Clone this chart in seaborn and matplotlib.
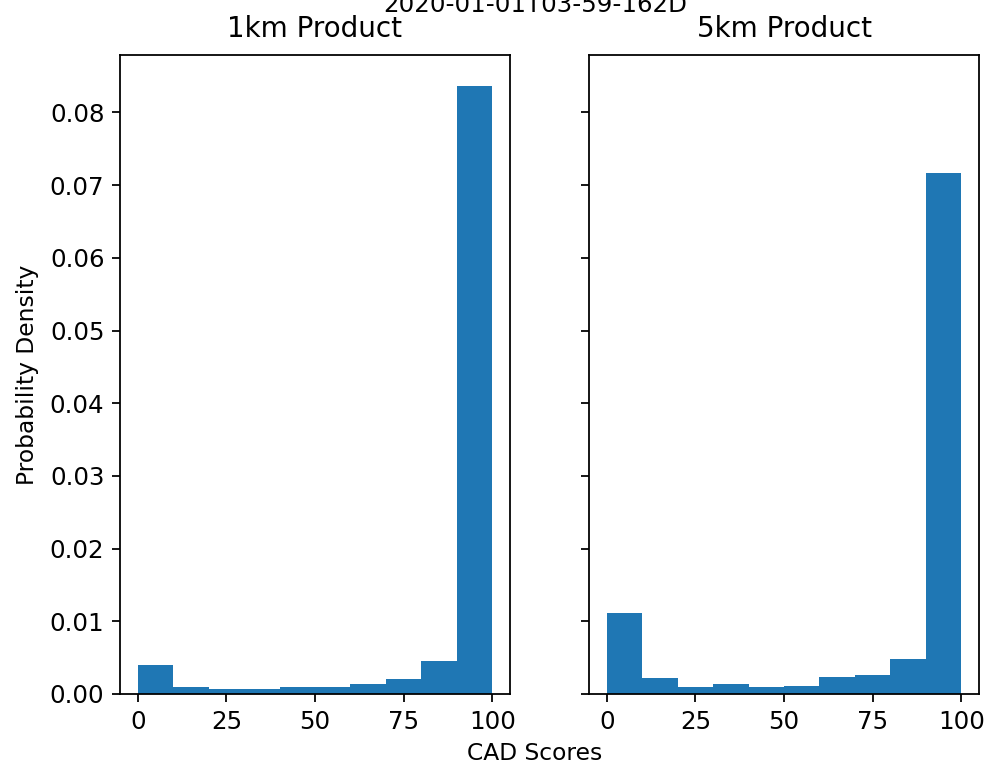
import numpy as np
import seaborn as sns
import matplotlib.pyplot as plt

# Bin edges (10 equal bins over 0-100) and density per bin
bin_edges = [0, 10, 20, 30, 40, 50, 60, 70, 80, 90, 100]
density_1km = [0.0040, 0.00092, 0.00069, 0.00069, 0.00092, 0.00092, 0.00137, 0.0021, 0.0045, 0.0837]
density_5km = [0.0111, 0.00215, 0.00092, 0.0014, 0.00092, 0.00114, 0.0024, 0.0026, 0.0048, 0.0717]
titles = ["1km Product", "5km Product"]
granule = "2020-01-01T03-59-162D"

centers = (np.array(bin_edges[:-1]) + np.array(bin_edges[1:])) / 2

fig = plt.figure(figsize=(986 / 160, 766 / 160), dpi=160)
ax1 = fig.add_axes([0.1217, 0.094, 0.3955, 0.834])
ax2 = fig.add_axes([0.5974, 0.094, 0.3955, 0.834], sharey=ax1)

for ax, dens, title in zip([ax1, ax2], [density_1km, density_5km], titles):
    sns.histplot(x=centers, weights=dens, bins=bin_edges, stat="count",
                 color="#1f77b4", alpha=1, linewidth=0, ax=ax)
    ax.set_title(title, fontsize=12.5, pad=8)
    ax.set_xlabel("")
    ax.set_ylabel("")
    ax.set_xticks([0, 25, 50, 75, 100])
    ax.tick_params(labelsize=11)

ax1.set_ylabel("Probability Density", fontsize=10.5, labelpad=5)
ax2.tick_params(labelleft=False)

# figure-level title sits at the very top edge, as in the original
fig.text(0.5426, 0.9935, granule, ha="center", va="center", fontsize=11)
fig.text(0.5426, 0.016, "CAD Scores", ha="center", va="center", fontsize=10.5)

plt.savefig("out.png", dpi=160)
